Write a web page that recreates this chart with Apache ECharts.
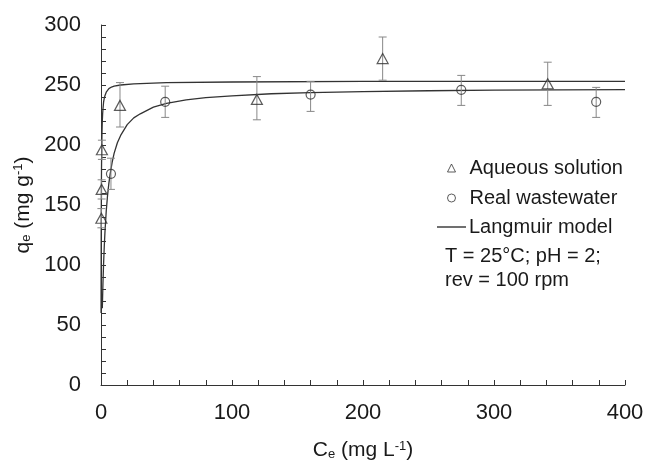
<!DOCTYPE html>
<html><head><meta charset="utf-8">
<script src="https://cdn.jsdelivr.net/npm/echarts@6/dist/echarts.min.js"></script>
<style>html,body{margin:0;padding:0;background:#fff}#c{width:648px;height:461px}</style>
</head><body><div id="c"></div>
<script>
// Aqueous solution: Ce, qe, error-bar low/high
const aqueousX = [0.3, 0.5, 0.7, 14.5, 119, 215, 341];
const aqueousY = [139, 163, 196, 233, 238, 272, 251];
const aqueousLo = [131, 155, 188, 215, 221, 254, 233];
const aqueousHi = [147, 171, 204, 252, 257, 290, 269];
// Real wastewater
const realX = [7.6, 49, 160, 275, 378];
const realY = [176, 236, 242, 246, 236];
const realLo = [163, 223, 228, 233, 223];
const realHi = [189, 249, 253, 258, 248];
// Langmuir model curves
const langAqX = [0.05, 0.075, 0.1, 0.15, 0.2, 0.3, 0.4, 0.5, 0.75, 1, 1.25, 1.5, 2, 2.5, 3, 4, 5, 6, 8, 10, 15, 25, 50, 100, 200, 400];
const langAqY = [60, 80, 95, 120, 140, 165, 181, 192, 210, 220, 226, 230, 236, 239, 241, 244, 245.5, 247, 248.3, 249, 250, 251, 252, 252.5, 253, 253];
const langReX = [1, 1.5, 2, 2.5, 3, 4, 5, 6, 7, 8.5, 10, 12.5, 15, 20, 25, 30, 40, 50, 65, 80, 100, 130, 160, 200, 250, 300, 350, 400];
const langReY = [64, 85, 102, 115.7, 127, 145, 158, 168, 176, 185.6, 193, 201.9, 208, 217, 222.6, 226, 231.5, 234.6, 237.6, 239.4, 241, 242.7, 243.6, 244.5, 245.2, 245.7, 246, 246.2];
const xTicks = [0, 100, 200, 300, 400];
const yTicks = [0, 50, 100, 150, 200, 250, 300];

const zip = (a, b) => a.map((v, i) => [v, b[i]]);
const errData = (x, lo, hi) => x.map((v, i) => [v, lo[i], hi[i]]);
const FONT = "'Liberation Sans', Arial, sans-serif";
const INK = '#333';
const TXT = '#1a1a1a';

function errRender(params, api) {
  const x = api.value(0);
  const lo = api.coord([x, api.value(1)]);
  const hi = api.coord([x, api.value(2)]);
  const w = 4;
  const st = { stroke: '#888', lineWidth: 1, fill: null };
  return { type: 'group', children: [
    { type: 'line', shape: { x1: lo[0], y1: lo[1], x2: hi[0], y2: hi[1] }, style: st },
    { type: 'line', shape: { x1: lo[0] - w, y1: lo[1], x2: lo[0] + w, y2: lo[1] }, style: st },
    { type: 'line', shape: { x1: hi[0] - w, y1: hi[1], x2: hi[0] + w, y2: hi[1] }, style: st }
  ]};
}
const richSS = {
  sub: { fontSize: 13, lineHeight: 6, verticalAlign: 'bottom', fontFamily: FONT, color: TXT },
  sup: { fontSize: 13, lineHeight: 10, verticalAlign: 'top', fontFamily: FONT, color: TXT }
};

const chart = echarts.init(document.getElementById('c'), null, { renderer: 'canvas' });
chart.setOption({
  animation: false,
  textStyle: { fontFamily: FONT },
  grid: { left: 101, right: 23, top: 25, bottom: 76, containLabel: false, outerBoundsMode: 'none' },
  xAxis: {
    type: 'value', min: xTicks[0], max: xTicks[xTicks.length - 1], interval: 100,
    splitLine: { show: false },
    axisLine: { lineStyle: { color: INK, width: 1 } },
    axisTick: { inside: true, length: 5, lineStyle: { color: INK } },
    minorTick: { show: true, splitNumber: 5, length: 5, lineStyle: { color: INK } },
    axisLabel: { fontSize: 22, color: TXT, margin: 17, fontFamily: FONT },
    name: 'C{sub|e} (mg L{sup|-1})', nameLocation: 'middle', nameGap: 55,
    nameTextStyle: { fontSize: 21, color: TXT, fontFamily: FONT, rich: richSS }
  },
  yAxis: {
    type: 'value', min: yTicks[0], max: yTicks[yTicks.length - 1], interval: 50,
    splitLine: { show: false },
    axisLine: { show: true, lineStyle: { color: INK, width: 1 } },
    axisTick: { show: true, inside: true, length: 5, lineStyle: { color: INK } },
    minorTick: { show: true, splitNumber: 5, length: 5, lineStyle: { color: INK } },
    axisLabel: { fontSize: 22, color: TXT, margin: 20, fontFamily: FONT },
    name: 'q{sub|e} (mg g{sup|-1})', nameLocation: 'middle', nameGap: 66,
    nameTextStyle: { fontSize: 21, color: TXT, fontFamily: FONT, rich: richSS }
  },
  legend: [{
    orient: 'vertical', left: 447, top: 158, padding: 0, itemWidth: 8, itemHeight: 8, itemGap: 10,
    textStyle: { fontSize: 20, color: TXT, fontFamily: FONT, lineHeight: 20, padding: [0, 0, 0, 9] },
    selectedMode: false,
    data: [
      { name: 'Aqueous solution', icon: 'triangle', itemStyle: { color: 'rgba(0,0,0,0)', borderColor: INK, borderWidth: 1 } },
      { name: 'Real wastewater', icon: 'circle', itemStyle: { color: 'rgba(0,0,0,0)', borderColor: INK, borderWidth: 1 } }
    ]
  }, {
    orient: 'vertical', left: 437, top: 217, padding: 0, itemWidth: 29, itemHeight: 1.4,
    textStyle: { fontSize: 20, color: TXT, fontFamily: FONT, lineHeight: 20, padding: [0, 0, 0, -2] },
    selectedMode: false,
    data: [{ name: 'Langmuir model', icon: 'rect', itemStyle: { color: INK, borderWidth: 0 } }]
  }],
  graphic: [{
    type: 'text', left: 445, top: 244,
    style: { text: 'T = 25°C; pH = 2;\nrev = 100 rpm', fontSize: 20, lineHeight: 24, fill: TXT, fontFamily: FONT }
  }],
  series: [
    { name: 'Langmuir model', type: 'line', data: zip(langAqX, langAqY), symbol: 'none', smooth: false,
      lineStyle: { color: INK, width: 1.3 }, itemStyle: { color: INK }, z: 2 },
    { name: 'Langmuir model', type: 'line', data: zip(langReX, langReY), symbol: 'none', smooth: false,
      lineStyle: { color: INK, width: 1.3 }, itemStyle: { color: INK }, z: 2 },
    { name: 'errA', type: 'custom', renderItem: errRender, data: errData(aqueousX, aqueousLo, aqueousHi), z: 3, silent: true },
    { name: 'errR', type: 'custom', renderItem: errRender, data: errData(realX, realLo, realHi), z: 3, silent: true },
    { name: 'Aqueous solution', type: 'scatter', data: zip(aqueousX, aqueousY), symbol: 'triangle', symbolSize: [11, 10],
      itemStyle: { color: 'rgba(0,0,0,0)', borderColor: INK, borderWidth: 1.2 }, z: 4 },
    { name: 'Real wastewater', type: 'scatter', data: zip(realX, realY), symbol: 'circle', symbolSize: 9,
      itemStyle: { color: 'rgba(0,0,0,0)', borderColor: INK, borderWidth: 1.2 }, z: 4 }
  ]
});
</script></body></html>
